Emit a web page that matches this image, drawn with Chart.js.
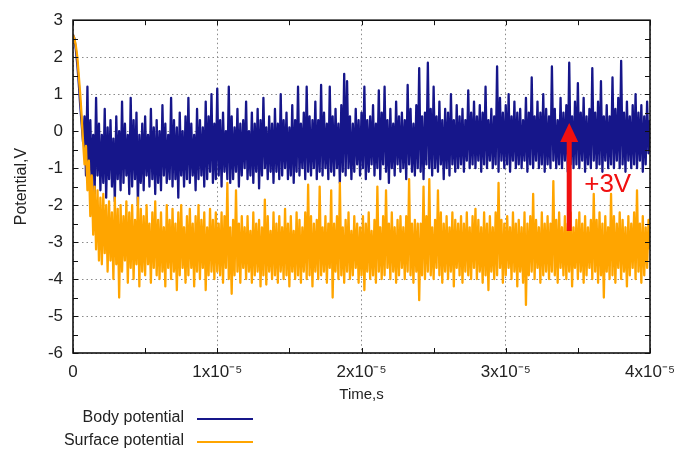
<!DOCTYPE html>
<html>
<head>
<meta charset="utf-8">
<script src="https://cdn.jsdelivr.net/npm/chart.js@4.4.1/dist/chart.umd.min.js"></script>
<style>
  html, body { margin: 0; padding: 0; background: #fff; }
  #wrap { width: 695px; height: 452px; }
</style>
</head>
<body>
<div id="wrap"><canvas id="potential-chart" width="695" height="452"></canvas></div>
<script>
const timeStep = 1e-7;

const bodyPotential = [
  2.6, 2.5, 2.2, 1.8, 1.3, 0.7, 0.2, -0.3, 0.4, -1.2,
  1.2, -1.5, 0.3, -1.3, -0.1, -1.7, 0.9, -1.2, 0.2, -1.6,
  -0.1, -1.4, 0.6, -1.8, 0.1, -1.3, 0.3, -1.5, -0.2, -1.9,
  0.4, -1.3, 0.0, -1.6, 0.8, -1.4, 0.2, -1.2, -0.1, -1.7,
  0.9, -1.5, 0.3, -1.3, 0.5, -2.0, -0.1, -1.4, 0.2, -1.6,
  0.4, -1.2, -0.1, -1.5, 0.6, -1.3, 0.1, -1.7, 0.3, -1.4,
  0.0, -1.6, 0.7, -1.2, 0.2, -1.4, -0.1, -1.3, 0.9, -1.5,
  0.3, -1.3, 0.1, -1.8, 0.5, -1.2, 0.0, -1.5, 0.4, -1.3,
  0.9, -1.4, 0.2, -1.2, -0.1, -1.6, 0.6, -1.3, 0.3, -1.2,
  0.1, -1.5, 0.8, -1.3, 0.4, -1.1, 1.0, -1.4, 0.2, -1.3,
  1.15, -1.2, 0.3, -1.5, 0.5, -1.1, 0.0, -1.3, 1.2, -1.4,
  0.4, -1.3, 0.1, -1.1, 0.6, -1.5, 0.2, -1.2, 0.3, -1.0,
  0.8, -1.3, 0.0, -1.2, 0.5, -1.4, 0.2, -1.1, 0.6, -1.55,
  0.3, -1.2, 0.9, -1.0, 0.1, -1.3, 0.4, -1.1, 0.2, -1.4,
  0.6, -1.1, 0.2, -1.3, 1.0, -1.2, 0.3, -1.0, 0.5, -1.3,
  0.1, -1.2, 0.7, -1.4, 0.3, -1.1, 1.2, -1.2, 0.2, -1.0,
  0.5, -1.3, 1.2, -1.1, 0.4, -1.2, 0.3, -1.0, 0.8, -1.3,
  0.3, -1.1, 1.25, -1.2, 0.5, -1.0, 0.2, -1.3, 1.2, -1.1,
  0.4, -1.2, 0.6, -1.0, 0.2, -1.4, 0.7, -1.1, 1.55,
  -1.2, 1.35, -1.0, 0.4, -1.3, 0.2, -1.1, 0.6, -0.9, 0.3,
  -1.2, 0.5, -1.0, 1.2, -1.3, 0.3, -1.1, 0.4, -0.9, 0.7,
  -1.2, 0.2, -1.0, 1.1, -1.3, 0.5, -0.9, 1.2, -1.1, 0.3,
  -1.4, 0.6, -1.0, 0.2, -1.2, 0.8, -0.9, 0.4, -1.1, 0.5,
  -1.0, 0.3, -1.3, 1.25, -0.9, 0.6, -1.1, 0.2, -1.2, 0.7,
  -1.0, 1.7, -1.1, 0.4, -1.3, 0.5, -0.9, 1.85, -1.0, 0.6,
  -1.2, 1.2, -1.0, 0.4, -1.1, 0.8, -0.9, 0.3, -1.3, 0.6,
  -1.0, 0.5, -1.2, 1.0, -0.9, 0.3, -1.1, 0.7, -1.0, 0.4,
  -0.9, 0.6, -1.1, 0.3, -0.8, 1.1, -1.0, 0.5, -0.9, 0.8,
  -1.0, 0.4, -0.8, 0.7, -1.1, 0.5, -0.9, 1.2, -1.0, 0.3,
  -0.8, 0.6, -1.0, 0.4, -0.9, 1.75, -1.1, 0.9, -0.8, 0.5,
  -1.0, 0.7, -0.9, 1.0, -1.1, 0.4, -0.8, 0.8, -1.0, 0.5,
  -0.9, 0.6, -1.0, 0.3, -0.8, 0.9, -1.1, 0.5, -0.9, 1.45,
  -1.0, 0.4, -0.8, 0.8, -1.0, 0.5, -0.9, 1.0, -1.1, 0.6,
  -0.9, 0.4, -1.0, 1.75, -0.8, 0.6, -1.0, 0.3, -0.9, 0.9,
  -1.0, 0.5, -0.8, 0.7, -1.1, 1.85, -0.9, 0.4, -1.0, 0.8,
  -0.9, 1.3, -1.0, 0.5, -0.8, 0.9, -1.1, 0.4, -0.9, 0.6,
  -1.0, 1.7, -0.8, 0.5, -1.0, 0.8, -0.9, 1.35, -1.1, 0.4,
  -0.8, 0.7, -1.0, 0.4, -0.9, 1.45, -1.0, 0.6, -0.8, 0.9,
  -1.0, 1.9, -0.9, 0.5, -1.1, 0.8, -0.8, 0.4, -1.0, 0.7,
  -0.9, 1.0, -1.0, 0.5, -0.8, 0.7, -1.1, 0.4, -0.9, 0.8,
  -0.6, 0.3
];

const surfacePotential = [
  2.6, 2.5, 2.3, 2.0, 1.5, 1.0, 0.4, -0.3, -0.9, -0.4,
  -1.6, -0.8, -2.3, -1.2, -2.8, -1.5, -3.2, -1.6, -3.5, -1.8,
  -3.6, -1.7, -3.3, -2.0, -3.8, -1.9, -3.5, -2.2, -4.0, -1.8,
  -3.6, -2.1, -4.5, -2.0, -3.8, -2.3, -3.5, -1.9, -4.1, -2.2,
  -3.7, -2.0, -4.0, -2.4, -3.6, -1.8, -4.2, -2.1, -3.8, -2.3,
  -3.9, -2.0, -3.6, -2.5, -4.1, -2.2, -3.7, -1.9, -3.9, -2.4,
  -4.0, -2.2, -3.8, -2.6, -4.2, -2.0, -3.7, -2.4, -4.0, -2.1,
  -3.8, -2.5, -4.3, -2.2, -3.9, -2.0, -3.7, -2.6, -4.1, -2.3,
  -3.9, -2.1, -3.7, -2.5, -4.2, -2.3, -3.8, -2.0, -4.0, -2.4,
  -3.7, -2.2, -4.3, -2.6, -3.9, -2.1, -3.8, -2.4, -4.0, -2.2,
  -3.8, -2.5, -3.9, -2.2, -4.1, -2.3, -3.7, -1.4, -4.0, -2.6,
  -4.4, -2.4, -3.9, -1.6, -3.8, -2.5, -4.1, -2.3, -3.7,
  -2.6, -4.0, -2.3, -3.8, -2.7, -4.1, -2.2, -3.9, -2.5, -3.8,
  -2.4, -4.2, -2.6, -3.9, -1.85, -4.15, -2.3, -3.8, -2.7, -4.0,
  -2.2, -3.9, -2.5, -4.1, -2.3, -3.8, -2.6, -4.0, -2.1, -3.9,
  -2.5, -4.2, -2.3, -3.8, -2.7, -4.0, -2.2, -3.9, -2.4, -4.1,
  -2.6, -3.8, -2.2, -4.0, -1.45, -3.9, -2.3, -4.2, -2.5, -3.8,
  -2.4, -4.0, -1.5, -3.9, -2.6, -3.8, -2.3, -4.1, -2.5, -3.7,
  -1.6, -4.5, -2.5, -3.8, -2.3, -4.0, -1.4, -3.9, -2.6, -4.1,
  -2.4, -3.8, -2.2, -4.0, -2.7, -3.9, -2.3, -3.7, -2.5, -4.1,
  -2.6, -3.9, -2.3, -4.3, -2.5, -3.8, -2.2, -4.0, -2.7, -3.9,
  -2.4, -4.1, -1.5, -3.8, -2.6, -4.0, -2.3, -3.9, -1.6, -3.7,
  -2.5, -4.0, -2.2, -3.8, -2.6, -4.1, -2.4, -3.9, -2.3, -3.7,
  -2.6, -4.0, -2.3, -3.8, -1.3, -3.9, -2.5, -4.1, -2.4, -3.8,
  -2.5,
  -4.57, -2.5, -3.9, -1.5, -4.0, -2.3, -3.8, -1.3, -3.9, -2.6,
  -4.0, -2.4, -3.7, -1.6, -3.9, -2.2, -4.1, -2.5, -3.8, -2.3,
  -4.0, -2.6, -3.8, -2.2, -4.2, -2.4, -3.7, -2.5, -3.9, -2.3,
  -4.1, -2.5, -3.8, -2.2, -3.9, -2.6, -4.0, -2.3, -3.7, -2.1,
  -4.0, -2.4, -3.8, -2.6, -4.1, -2.2, -3.9, -2.5, -4.3, -2.3,
  -3.8, -2.6, -4.0, -2.2, -3.9, -1.4, -3.7, -2.4, -4.1, -2.5,
  -3.9, -2.3, -3.7, -2.6, -4.0, -2.2, -3.8, -2.5, -4.2, -2.4,
  -3.8, -2.6, -4.1, -2.2, -4.7, -2.5, -3.9, -2.3, -3.8, -1.7,
  -4.0, -2.4, -3.7, -2.6, -4.1, -2.2, -3.9, -2.5, -3.8, -2.3,
  -4.0, -2.5, -3.8, -1.35, -3.9, -2.4, -4.1, -2.2, -3.7, -2.6,
  -3.9, -2.3, -4.0, -2.5, -3.8, -2.2, -4.2, -2.6, -3.7, -2.4,
  -4.0, -2.2, -3.8, -2.5, -4.1, -2.3, -3.9, -2.6, -3.7, -2.4,
  -4.0, -1.7, -3.8, -2.4, -4.1, -2.2, -3.9, -2.5, -4.5, -2.3,
  -3.8, -2.6, -4.0, -1.7, -3.9, -2.3, -4.1, -2.5, -3.7, -2.2,
  -4.0, -2.4, -3.8, -2.6, -4.2, -2.3, -3.9, -2.5, -3.7, -2.2,
  -4.0, -1.6, -3.8, -2.5, -4.1, -2.3, -3.9, -2.6, -3.7, -2.4,
  -3.2
];

const seriesNames = ['Body potential', 'Surface potential'];
const seriesColors = ['#16168a', '#ffa500'];
const xTickLabels = ['0', '1x10\u207B\u2075', '2x10\u207B\u2075', '3x10\u207B\u2075', '4x10\u207B\u2075'];

// the red "+3V" shift marker
const shiftArrow = { time: 3.44e-5, from: -2.7, to: 0.22, label: '+3V' };

const toPoints = values => values.map((v, i) => ({ x: i * timeStep, y: v }));

const FONT = '"Liberation Sans", Arial, sans-serif';

const framePlugin = {
  id: 'frame',
  afterDatasetsDraw(chart) {
    const { ctx, chartArea: a, scales: { x, y } } = chart;
    ctx.save();
    ctx.strokeStyle = '#111';
    ctx.lineWidth = 1;
    ctx.beginPath();
    for (let v = -6; v <= 3; v += 0.5) {
      const py = Math.round(y.getPixelForValue(v)) + 0.5;
      ctx.moveTo(a.left, py); ctx.lineTo(a.left + 5, py);
      ctx.moveTo(a.right - 5, py); ctx.lineTo(a.right, py);
    }
    for (let k = 0; k <= 8; k++) {
      const px = Math.round(x.getPixelForValue(k * 0.5e-5)) + 0.5;
      ctx.moveTo(px, a.bottom); ctx.lineTo(px, a.bottom - 5);
      ctx.moveTo(px, a.top); ctx.lineTo(px, a.top + 5);
    }
    ctx.stroke();
    ctx.lineWidth = 1.6;
    ctx.strokeRect(a.left, a.top, a.right - a.left, a.bottom - a.top);

    // shift arrow
    const ax = x.getPixelForValue(shiftArrow.time);
    const yTip = y.getPixelForValue(shiftArrow.to);
    const yBase = y.getPixelForValue(shiftArrow.from);
    ctx.fillStyle = '#f01010';
    ctx.fillRect(ax - 2.5, yTip + 16, 5, yBase - yTip - 16);
    ctx.beginPath();
    ctx.moveTo(ax, yTip);
    ctx.lineTo(ax - 9, yTip + 19);
    ctx.lineTo(ax + 9, yTip + 19);
    ctx.closePath();
    ctx.fill();
    ctx.font = '26px ' + FONT;
    ctx.textAlign = 'left';
    ctx.textBaseline = 'alphabetic';
    ctx.fillText(shiftArrow.label, ax + 15, y.getPixelForValue(-1.65));

    // legend below the plot
    ctx.font = '16px ' + FONT;
    ctx.textAlign = 'right';
    ctx.textBaseline = 'middle';
    seriesNames.forEach((name, i) => {
      const ly = 418 + i * 23;
      ctx.fillStyle = '#222';
      ctx.fillText(name, 184, ly);
      ctx.strokeStyle = seriesColors[i];
      ctx.lineWidth = 2;
      ctx.beginPath();
      ctx.moveTo(197, ly + 1);
      ctx.lineTo(253, ly + 1);
      ctx.stroke();
    });
    ctx.restore();
  }
};

const whiteBg = {
  id: 'whiteBg',
  beforeDraw(chart) {
    const { ctx, width, height } = chart;
    ctx.save();
    ctx.fillStyle = '#fff';
    ctx.fillRect(0, 0, width, height);
    ctx.restore();
  }
};

const traceStyle = {
  borderWidth: 2.3,
  borderJoinStyle: 'round',
  pointRadius: 0,
  tension: 0
};

new Chart(document.getElementById('potential-chart'), {
  type: 'line',
  data: {
    datasets: [
      { label: seriesNames[1], data: toPoints(surfacePotential), borderColor: seriesColors[1], ...traceStyle },
      { label: seriesNames[0], data: toPoints(bodyPotential), borderColor: seriesColors[0], ...traceStyle }
    ]
  },
  options: {
    responsive: false,
    animation: false,
    layout: { padding: { top: 19, right: 45, left: 0, bottom: 0 } },
    scales: {
      x: {
        type: 'linear',
        min: 0,
        max: 4e-5,
        afterFit: scale => { scale.height = 99; },
        afterBuildTicks: scale => {
          scale.ticks = xTickLabels.map((_, i) => ({ value: i * 1e-5 }));
        },
        ticks: {
          callback: (value, index) => xTickLabels[index],
          font: { family: FONT, size: 17 },
          color: '#222',
          padding: 9,
          maxRotation: 0,
          autoSkip: false
        },
        grid: { color: '#8a8a8a', lineWidth: 1, drawTicks: false },
        border: { display: false, dash: [1.5, 3] },
        title: {
          display: true,
          text: 'Time,s',
          font: { family: FONT, size: 15 },
          color: '#222',
          padding: { top: 0, bottom: 48 }
        }
      },
      y: {
        min: -6,
        max: 3,
        afterFit: scale => { scale.width = 73; },
        ticks: {
          stepSize: 1,
          font: { family: FONT, size: 17 },
          color: '#222',
          padding: 10
        },
        grid: { color: '#8a8a8a', lineWidth: 1, drawTicks: false },
        border: { display: false, dash: [1.5, 3] },
        title: {
          display: true,
          text: 'Potential,V',
          font: { family: FONT, size: 16 },
          color: '#222',
          padding: { top: 12, bottom: 0 }
        }
      }
    },
    plugins: {
      legend: { display: false },
      tooltip: { enabled: false }
    }
  },
  plugins: [whiteBg, framePlugin]
});
</script>
</body>
</html>
